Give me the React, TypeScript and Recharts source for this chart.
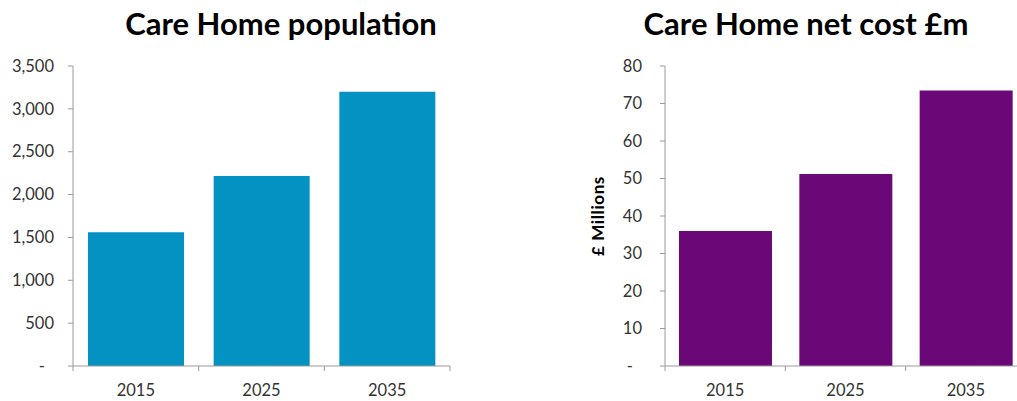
import { BarChart, Bar, XAxis, YAxis } from "recharts"

const years = ["2015", "2025", "2035"]
const population = [1560, 2217, 3201]
const netCost = [36.0, 51.2, 73.5]
const popTicks = [0, 500, 1000, 1500, 2000, 2500, 3000, 3500]
const costTicks = [0, 10, 20, 30, 40, 50, 60, 70, 80]

const popData = years.map((year, i) => ({ year, value: population[i] }))
const costData = years.map((year, i) => ({ year, value: netCost[i] }))

const FONT = "Lato, 'Open Sans', sans-serif"
const AXIS = "#9a9a9a"
const TEXT = "#333333"

function YTick(props: any) {
  const { x, y, payload, fmt } = props
  const zero = payload.value === 0
  return (
    <text x={zero ? x - 9 : x} y={y} dy="0.35em" textAnchor="end" fill={TEXT} fontSize={16.5} fontFamily={FONT}>
      {zero ? "-" : fmt(payload.value)}
    </text>
  )
}

// Excel style: tick marks sit between categories, labels centred under bars
function XTick(props: any) {
  const { x, y, payload, index, band } = props
  const left = x - band / 2
  return (
    <g>
      <line x1={left} y1={y} x2={left} y2={y + 5} stroke={AXIS} />
      {index === years.length - 1 && <line x1={left + band} y1={y} x2={left + band} y2={y + 5} stroke={AXIS} />}
      <text x={x} y={y + 24} dominantBaseline="central" textAnchor="middle" fill={TEXT} fontSize={16.5} fontFamily={FONT}>
        {payload.value}
      </text>
    </g>
  )
}

const titleStyle: React.CSSProperties = {
  position: "absolute",
  top: 4,
  fontFamily: FONT,
  fontWeight: 700,
  fontSize: 31,
  color: "#000",
  textAlign: "center",
  whiteSpace: "nowrap",
}

export default function App() {
  return (
    <div style={{ position: "absolute", left: 0, top: 0, width: 1017, height: 401, overflow: "hidden", background: "#fff" }}>
      <div style={{ ...titleStyle, left: 81, width: 400 }}>Care Home population</div>
      <div style={{ ...titleStyle, left: 606, width: 400 }}>Care Home net cost £m</div>

      <div style={{ position: "absolute", left: 0, top: 0 }}>
        <BarChart width={460} height={401} data={popData} margin={{ top: 66, right: 10, left: 0, bottom: 5 }}>
          <XAxis
            dataKey="year"
            height={30}
            stroke={AXIS}
            tickLine={false}
            tickSize={0}
            tickMargin={0}
            interval={0}
            tick={<XTick band={377 / 3} />}
          />
          <YAxis
            width={73}
            domain={[0, 3500]}
            ticks={popTicks}
            interval={0}
            stroke={AXIS}
            tickSize={5}
            tickMargin={14}
            tick={<YTick fmt={(v: number) => v.toLocaleString("en-GB")} />}
          />
          <Bar dataKey="value" fill="#0392C1" barSize={96} isAnimationActive={false} />
        </BarChart>
      </div>

      <div style={{ position: "absolute", left: 560, top: 0 }}>
        <BarChart width={466} height={401} data={costData} margin={{ top: 66, right: 0, left: 0, bottom: 5 }}>
          <XAxis
            dataKey="year"
            height={30}
            stroke={AXIS}
            tickLine={false}
            tickSize={0}
            tickMargin={0}
            interval={0}
            tick={<XTick band={361 / 3} />}
          />
          <YAxis
            width={105}
            domain={[0, 80]}
            ticks={costTicks}
            interval={0}
            stroke={AXIS}
            tickSize={5}
            tickMargin={18}
            tick={<YTick fmt={(v: number) => String(v)} />}
            label={{
              value: "£ Millions",
              angle: -90,
              position: "insideLeft",
              offset: 38,
              style: { fontFamily: FONT, fontWeight: 700, fontSize: 17, letterSpacing: 0.6, fill: "#000", textAnchor: "middle" },
            }}
          />
          <Bar dataKey="value" fill="#6B0877" barSize={93} isAnimationActive={false} />
        </BarChart>
      </div>
    </div>
  )
}
